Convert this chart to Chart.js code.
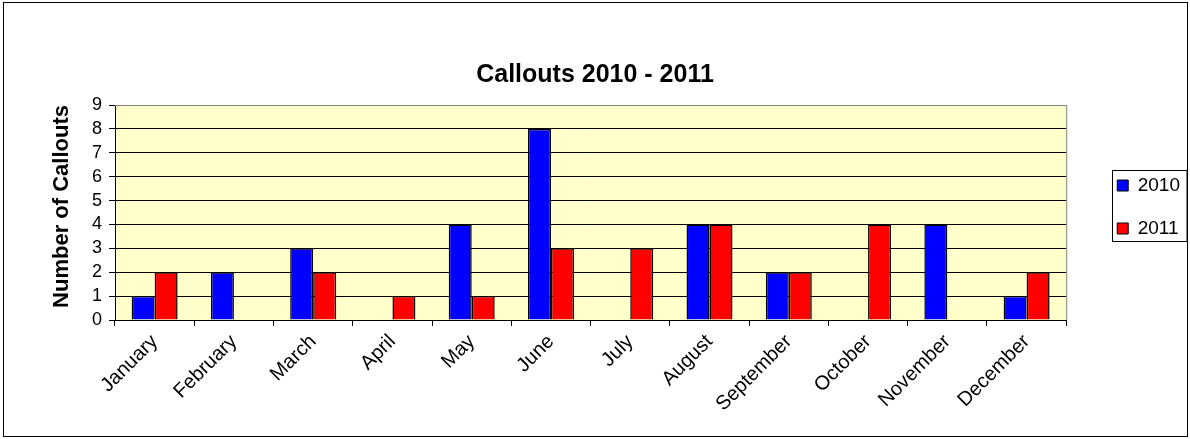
<!DOCTYPE html>
<html>
<head>
<meta charset="utf-8">
<script src="https://cdn.jsdelivr.net/npm/chart.js@4/dist/chart.umd.min.js"></script>
<style>
  html, body { margin: 0; padding: 0; background: #fff; }
  #wrap { width: 1190px; height: 439px; }
</style>
</head>
<body>
<div id="wrap"><canvas id="chart"></canvas></div>
<script>
const months = ["January", "February", "March", "April", "May", "June",
    "July", "August", "September", "October", "November", "December"];
const callouts2010 = [1, 2, 3, 0, 4, 8, 0, 4, 2, 0, 4, 1];
const callouts2011 = [2, 0, 2, 1, 1, 3, 3, 4, 2, 4, 0, 2];
const yMin = 0;
const yMax = 9;
const yStep = 1;

// plot background, grey plot frame, outer frame and legend box
const excelLook = {
    id: "excelLook",
    beforeDraw(chart) {
        const ctx = chart.ctx;
        const a = chart.chartArea;
        ctx.save();
        ctx.fillStyle = "#FFFFCC";
        ctx.fillRect(a.left, a.top, a.right - a.left, a.bottom - a.top);
        ctx.restore();
    },
    afterDraw(chart) {
        const ctx = chart.ctx;
        const a = chart.chartArea;
        ctx.save();
        ctx.lineWidth = 1;
        ctx.strokeStyle = "#808080";
        ctx.beginPath();
        ctx.moveTo(a.left, a.top + 0.5);
        ctx.lineTo(a.right + 0.5, a.top + 0.5);
        ctx.lineTo(a.right + 0.5, a.bottom);
        ctx.stroke();

        // chart frame
        ctx.strokeStyle = "#000000";
        ctx.strokeRect(3.5, 2.5, 1184, 434);

        // legend border
        const boxes = chart.legend.legendHitBoxes;
        if (boxes && boxes.length) {
            const first = boxes[0];
            const last = boxes[boxes.length - 1];
            const left = Math.round(first.left) - 4.5;
            const top = Math.round(first.top) - 5.5;
            const bottom = Math.round(last.top + last.height) + 3.5;
            ctx.strokeStyle = "#000000";
            ctx.strokeRect(left, top, 1187 - left, bottom - top);
        }
        ctx.restore();
    },
};

new Chart(document.getElementById("chart"), {
    type: "bar",
    data: {
        labels: months,
        datasets: [
            {
                label: "2010",
                data: callouts2010,
                backgroundColor: "#0000FF",
                borderColor: "#000000",
                borderWidth: 1.5,
            },
            {
                label: "2011",
                data: callouts2011,
                backgroundColor: "#FF0000",
                borderColor: "#000000",
                borderWidth: 1.5,
            },
        ],
    },
    options: {
        responsive: true,
        maintainAspectRatio: false,
        animation: false,
        datasets: {
            bar: { barPercentage: 1, categoryPercentage: 0.58 },
        },
        layout: { padding: { left: 0, right: 0, top: 0, bottom: 0 } },
        plugins: {
            title: {
                display: true,
                text: "Callouts 2010 - 2011",
                color: "#000000",
                font: { family: "Arial, 'Liberation Sans'", size: 25, weight: "bold" },
                padding: { top: 60, bottom: 15 },
            },
            legend: {
                position: "right",
                align: "start",
                title: {
                    display: true,
                    text: "",
                    font: { size: 10 },
                    padding: { top: 140, bottom: 0 },
                },
                labels: {
                    color: "#000000",
                    boxWidth: 11,
                    boxHeight: 11,
                    padding: 24,
                    font: { family: "Arial, 'Liberation Sans'", size: 19 },
                    generateLabels(chart) {
                        const items = Chart.defaults.plugins.legend.labels.generateLabels(chart);
                        return items.map(function (item) {
                            item.lineWidth = 1;
                            return item;
                        });
                    },
                },
            },
            tooltip: { enabled: false },
        },
        scales: {
            x: {
                grid: {
                    drawOnChartArea: false,
                    drawTicks: true,
                    tickLength: 6,
                    color: "#000000",
                },
                border: { color: "#000000", width: 1 },
                ticks: {
                    color: "#000000",
                    minRotation: 45,
                    maxRotation: 45,
                    autoSkip: false,
                    padding: 4,
                    font: { family: "Arial, 'Liberation Sans'", size: 20 },
                },
                afterFit(scale) {
                    scale.height = 119;
                },
            },
            y: {
                min: yMin,
                max: yMax,
                grid: { color: "#000000", tickLength: 6 },
                border: { color: "#000000", width: 1 },
                ticks: {
                    stepSize: yStep,
                    autoSkip: false,
                    color: "#000000",
                    padding: 7,
                    font: { family: "Arial, 'Liberation Sans'", size: 18 },
                },
                title: {
                    display: true,
                    text: "Number of Callouts",
                    align: "end",
                    color: "#000000",
                    font: { family: "Arial, 'Liberation Sans'", size: 22, weight: "bold" },
                    padding: { top: 49, bottom: 0 },
                },
                afterFit(scale) {
                    scale.width = 115;
                },
            },
            gap: {
                position: "right",
                display: true,
                grid: { display: false },
                border: { display: false },
                ticks: { display: false },
                afterFit(scale) {
                    scale.width = 27;
                },
            },
        },
    },
    plugins: [excelLook],
});
</script>
</body>
</html>
